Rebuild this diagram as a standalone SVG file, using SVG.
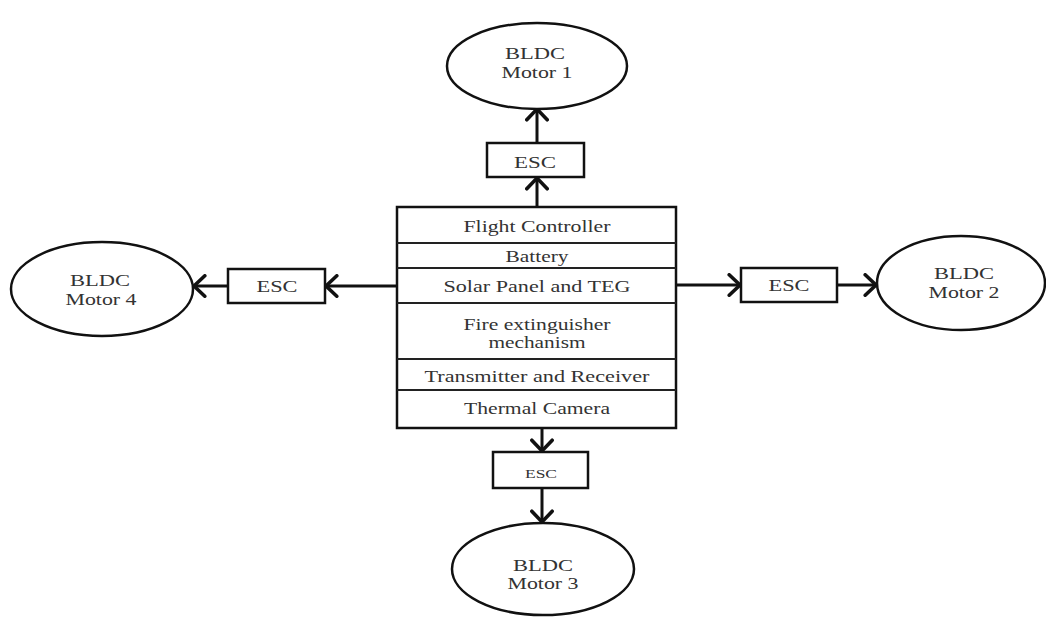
<svg xmlns="http://www.w3.org/2000/svg" width="1046" height="617" viewBox="0 0 1046 617">
<style>
.shape{fill:#fff;stroke:#111;stroke-width:2.5}
.div{stroke:#222;stroke-width:2}
.t{font-family:"Liberation Serif","DejaVu Serif",serif;font-size:16.5px;fill:#333;text-anchor:middle;dominant-baseline:central}
.conn{stroke:#111;stroke-width:3;fill:none;marker-end:url(#arr)}
</style>
<defs>
<marker id="arr" markerUnits="userSpaceOnUse" markerWidth="20" markerHeight="24" viewBox="-12 -10 14 20" refX="0" refY="0" orient="auto">
<path d="M-9,-8.5 L0,0 L-9,8.5" fill="none" stroke="#111" stroke-width="3" stroke-linecap="round" stroke-linejoin="miter"/>
</marker>
</defs>
<rect width="1046" height="617" fill="#fff"/>
<g id="connectors">
<line class="conn" x1="537" y1="207" x2="537" y2="178"/>
<line class="conn" x1="537" y1="143" x2="537" y2="109"/>
<line class="conn" x1="397" y1="286" x2="326" y2="286"/>
<line class="conn" x1="228" y1="286" x2="194" y2="286"/>
<line class="conn" x1="676" y1="285" x2="740" y2="285"/>
<line class="conn" x1="837" y1="285" x2="876" y2="285"/>
<line class="conn" x1="542" y1="428" x2="542" y2="451"/>
<line class="conn" x1="542" y1="488" x2="542" y2="522"/>
</g>
<g id="main">
<rect class="shape" x="397" y="207" width="279" height="221"/>
<line class="div" x1="397" y1="243" x2="676" y2="243"/>
<line class="div" x1="397" y1="268" x2="676" y2="268"/>
<line class="div" x1="397" y1="303" x2="676" y2="303"/>
<line class="div" x1="397" y1="359" x2="676" y2="359"/>
<line class="div" x1="397" y1="390" x2="676" y2="390"/>
<text class="t" x="537" y="226" textLength="147" lengthAdjust="spacingAndGlyphs">Flight Controller</text>
<text class="t" x="537" y="256" textLength="63" lengthAdjust="spacingAndGlyphs">Battery</text>
<text class="t" x="537" y="286" textLength="187" lengthAdjust="spacingAndGlyphs">Solar Panel and TEG</text>
<text class="t" x="537" y="324" textLength="147" lengthAdjust="spacingAndGlyphs">Fire extinguisher</text>
<text class="t" x="537" y="342" textLength="97" lengthAdjust="spacingAndGlyphs">mechanism</text>
<text class="t" x="537" y="376" textLength="225" lengthAdjust="spacingAndGlyphs">Transmitter and Receiver</text>
<text class="t" x="537" y="408" textLength="146" lengthAdjust="spacingAndGlyphs">Thermal Camera</text>
</g>
<g id="esc1">
<rect class="shape" x="487" y="143" width="97" height="34"/>
<text class="t" x="535" y="162" textLength="42" lengthAdjust="spacingAndGlyphs">ESC</text>
</g>
<g id="esc4">
<rect class="shape" x="228" y="269" width="97" height="34"/>
<text class="t" x="277" y="286" textLength="41" lengthAdjust="spacingAndGlyphs">ESC</text>
</g>
<g id="esc2">
<rect class="shape" x="741" y="268" width="96" height="34"/>
<text class="t" x="789" y="285" textLength="41" lengthAdjust="spacingAndGlyphs">ESC</text>
</g>
<g id="esc3">
<rect class="shape" x="493" y="452" width="95" height="36"/>
<text class="t" x="541" y="473" style="font-size:13px" textLength="32" lengthAdjust="spacingAndGlyphs">ESC</text>
</g>
<g id="motor1">
<ellipse class="shape" cx="537" cy="66" rx="90" ry="43"/>
<text class="t" x="535" y="53" textLength="60" lengthAdjust="spacingAndGlyphs">BLDC</text>
<text class="t" x="537" y="72" textLength="71" lengthAdjust="spacingAndGlyphs">Motor 1</text>
</g>
<g id="motor4">
<ellipse class="shape" cx="102" cy="289" rx="91" ry="47"/>
<text class="t" x="100" y="280" textLength="60" lengthAdjust="spacingAndGlyphs">BLDC</text>
<text class="t" x="101" y="299" textLength="71" lengthAdjust="spacingAndGlyphs">Motor 4</text>
</g>
<g id="motor2">
<ellipse class="shape" cx="961" cy="283" rx="84" ry="47"/>
<text class="t" x="964" y="273" textLength="60" lengthAdjust="spacingAndGlyphs">BLDC</text>
<text class="t" x="964" y="292" textLength="71" lengthAdjust="spacingAndGlyphs">Motor 2</text>
</g>
<g id="motor3">
<ellipse class="shape" cx="543" cy="569" rx="91" ry="46"/>
<text class="t" x="543" y="565" textLength="60" lengthAdjust="spacingAndGlyphs">BLDC</text>
<text class="t" x="543" y="583" textLength="71" lengthAdjust="spacingAndGlyphs">Motor 3</text>
</g>
</svg>
